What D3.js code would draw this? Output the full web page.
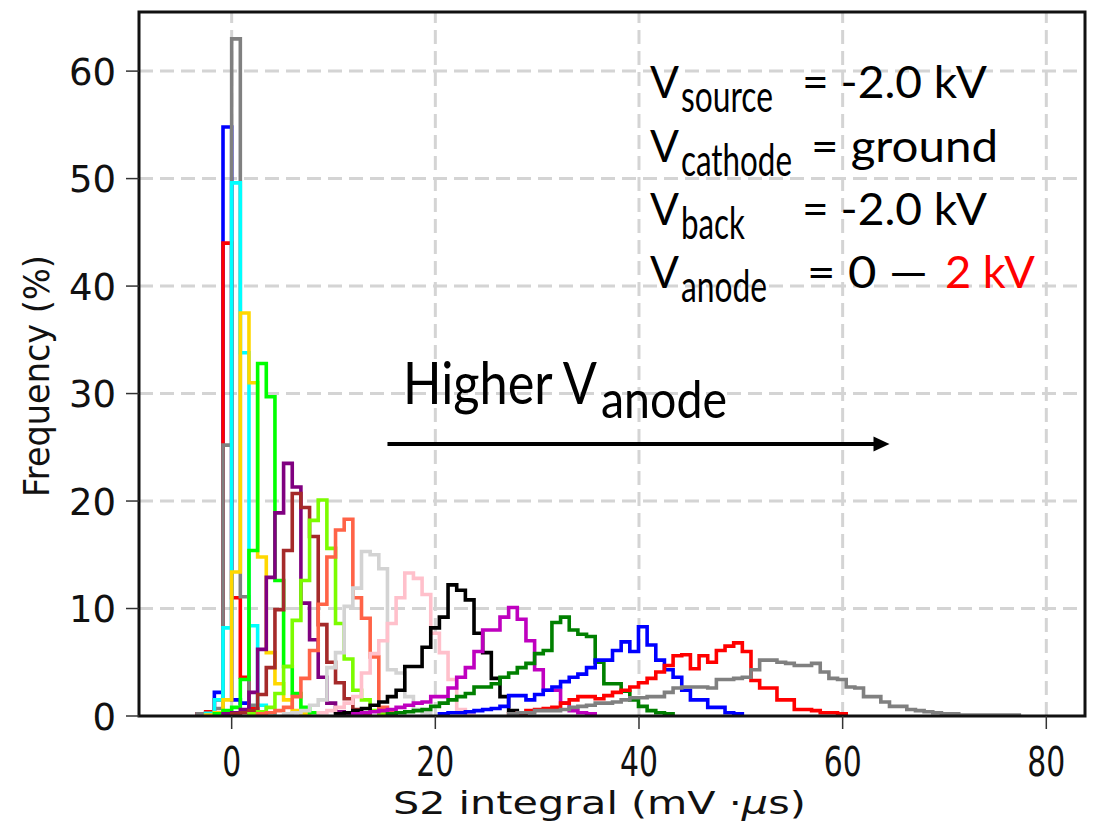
<!DOCTYPE html>
<html><head><meta charset="utf-8">
<script src="https://cdn.jsdelivr.net/npm/d3@7/dist/d3.min.js"></script>
<style>body{margin:0;background:#fff;} svg{display:block}</style>
</head><body>
<svg id="chart" width="1099" height="824"></svg>
<script>
// ---- data ----
const binStart = -5.1;      // left edge of bin 0 (mV·µs)
const binWidth = 0.85;      // shared bin width (mV·µs)
const xTicks = [0, 20, 40, 60, 80];
const yTicks = [0, 10, 20, 30, 40, 50, 60];

// Frequency (%) per bin, each series starts at the bin index given in seriesStartBins
const blue1  = [0.2, 0.3, 2.2, 54.8, 1.5, 1.2, 0.3];
const red1   = [0.2, 0.4, 1.5, 44.0, 11.0, 3.6, 0.8, 0.2];
const gray1  = [0.2, 0.3, 0.7, 25.2, 63.0, 11.1, 1.0, 0.3];
const cyan1  = [0.2, 1.5, 8.2, 49.6, 33.8, 8.4, 1.0, 0.3];
const gold1  = [0.1, 0.3, 1.5, 13.4, 37.5, 31.0, 14.8, 5.9, 3.0, 1.5, 0.5, 0.2];
const lime1  = [0.2, 0.5, 0.8, 3.4, 15.4, 32.8, 29.7, 12.6, 4.6, 2.1, 0.8, 0.3];
const purple1 = [0.2, 0.3, 0.6, 2.2, 6.2, 12.9, 18.9, 23.5, 21.3, 10.5, 7.1, 3.6, 1.2, 0.4, 0.2];
const brown1 = [0.2, 0.3, 0.5, 2.0, 4.5, 9.9, 15.4, 20.7, 19.4, 16.7, 8.5, 5.0, 3.1, 1.6, 0.6, 0.2];
const lawngreen1 = [0.2, 0.4, 0.8, 2.1, 4.6, 8.9, 12.6, 18.2, 20.1, 15.6, 8.6, 5.3, 2.4, 1.5, 0.5, 0.2];
const tomato1 = [0.2, 0.3, 0.5, 0.8, 1.8, 3.5, 6.1, 10.4, 14.8, 17.3, 18.3, 11.0, 9.1, 5.5, 0.8, 0.3];
const lightgray1 = [0.2, 0.3, 0.5, 1.0, 1.5, 4.5, 5.9, 10.2, 11.9, 15.3, 15.0, 13.7, 4.3, 4.0, 1.8, 0.6, 0.3];
const pink1  = [0.3, 0.5, 0.8, 1.2, 1.8, 4.0, 5.8, 7.0, 8.6, 11.0, 13.3, 12.8, 11.3, 7.7, 5.9, 3.4, 0.6, 0.2];
const black1 = [0.2, 0.3, 0.5, 0.7, 1.0, 1.3, 1.8, 2.4, 4.6, 4.6, 6.4, 8.2, 9.2, 12.2, 11.7, 10.8, 7.7, 5.9, 3.5, 1.8, 0.5, 0.2];
const magenta1 = [0.2, 0.3, 0.4, 0.5, 0.6, 0.8, 1.0, 1.2, 1.3, 1.8, 1.8, 2.6, 3.6, 4.5, 6.0, 8.0, 8.0, 9.2, 10.1, 9.0, 7.0, 4.3, 2.4, 2.4, 1.2, 0.5, 0.3, 0.2];
const green1 = [0.2, 0.3, 0.4, 0.5, 0.6, 0.9, 1.2, 1.5, 1.8, 2.1, 2.7, 2.7, 3.0, 3.6, 4.0, 4.5, 4.9, 5.8, 6.1, 8.7, 9.2, 8.0, 7.6, 7.4, 5.0, 3.0, 3.0, 2.3, 1.5, 0.9, 0.5, 0.3, 0.2];
const blue2  = [0.2, 0.3, 0.3, 0.4, 0.5, 0.6, 0.7, 0.9, 1.9, 1.9, 1.5, 2.0, 2.4, 2.7, 3.2, 3.6, 3.9, 4.5, 5.2, 5.2, 6.1, 6.9, 6.0, 8.3, 6.6, 5.2, 4.3, 3.6, 2.4, 1.5, 1.5, 0.8, 0.8, 0.3, 0.2];
const red2   = [0.2, 0.3, 0.5, 0.6, 0.7, 0.8, 1.2, 1.5, 1.8, 1.8, 1.6, 1.9, 2.2, 2.4, 2.7, 3.1, 3.5, 4.1, 4.7, 5.6, 5.7, 4.4, 5.6, 5.0, 6.1, 6.5, 6.8, 6.0, 3.3, 2.6, 2.6, 1.5, 1.5, 0.6, 0.6, 0.5, 0.3, 0.3, 0.2];
const gray2  = [0.2, 0.3, 0.3, 0.5, 0.5, 0.5, 0.6, 0.8, 0.9, 1.0, 1.2, 1.2, 1.3, 1.5, 1.7, 1.7, 1.8, 1.8, 2.2, 2.6, 2.7, 2.7, 2.7, 2.6, 3.4, 3.4, 3.5, 3.6, 4.3, 5.2, 5.2, 5.0, 4.9, 4.7, 4.7, 4.9, 4.1, 3.5, 3.4, 2.7, 2.6, 1.8, 1.8, 1.3, 0.9, 0.9, 0.6, 0.5, 0.4, 0.3, 0.2, 0.2, 0.1, 0.1, 0.1, 0.1, 0.1, 0.1, 0.1];

const seriesValues = [blue1, red1, gray1, cyan1, gold1, lime1, purple1, brown1, lawngreen1, tomato1, lightgray1, pink1, black1, magenta1, green1, blue2, red2, gray2];
const seriesStartBins = [2, 2, 2, 3, 3, 4, 5, 6, 8, 9, 12, 16, 18, 20, 24, 30, 38, 38];
const seriesColors = ["#0000ff", "#ff0000", "#808080", "#00ffff", "#ffd700", "#00ff00", "#800080", "#a52a2a", "#7cfc00", "#ff6347", "#d3d3d3", "#ffc0cb", "#000000", "#bf00bf", "#008000", "#0000ff", "#ff0000", "#808080"];

// ---- chart ----
const svg = d3.select("#chart");
const M = {left: 139, right: 1085, top: 12, bottom: 716};
const x = d3.scaleLinear().domain([-9.1, 83.8]).range([M.left, M.right]);
const y = d3.scaleLinear().domain([0, 65.5]).range([M.bottom, M.top]);

svg.append("rect").attr("width", 1099).attr("height", 824).attr("fill", "#fff");

// grid
const grid = svg.append("g").attr("stroke", "#d4d4d4").attr("stroke-width", 3).attr("stroke-dasharray", "14,7");
grid.selectAll("line.gx").data(xTicks).join("line")
  .attr("x1", d => x(d)).attr("x2", d => x(d)).attr("y1", M.bottom).attr("y2", M.top);
grid.selectAll("line.gy").data(yTicks.filter(d => d > 0)).join("line")
  .attr("y1", d => y(d)).attr("y2", d => y(d)).attr("x1", M.left).attr("x2", M.right);

// histograms (step outlines)
const edge = k => binStart + k * binWidth;
const line = d3.line().x(d => x(d[0])).y(d => y(d[1]));
const plot = svg.append("g");
seriesValues.forEach((vals, i) => {
  const s = seriesStartBins[i];
  const pts = [[edge(s), 0]];
  vals.forEach((v, j) => { pts.push([edge(s + j), v]); pts.push([edge(s + j + 1), v]); });
  pts.push([edge(s + vals.length), 0]);
  plot.append("path").attr("d", line(pts)).attr("fill", "none")
    .attr("stroke", seriesColors[i]).attr("stroke-width", 3.6).attr("stroke-linejoin", "miter");
});

// frame
svg.append("rect").attr("x", M.left).attr("y", M.top).attr("width", M.right - M.left).attr("height", M.bottom - M.top)
  .attr("fill", "none").attr("stroke", "#111").attr("stroke-width", 3);

// ticks
const tk = svg.append("g").attr("stroke", "#333").attr("stroke-width", 1.5);
tk.selectAll("line.ty").data(yTicks).join("line")
  .attr("x1", M.left - 13).attr("x2", M.left).attr("y1", d => y(d)).attr("y2", d => y(d));
tk.selectAll("line.tx").data(xTicks).join("line")
  .attr("y1", M.bottom).attr("y2", M.bottom + 13).attr("x1", d => x(d)).attr("x2", d => x(d));

svg.append("g").selectAll("text").data(yTicks).join("text")
  .attr("x", 116).attr("y", d => y(d) + 13.5).attr("text-anchor", "end")
  .attr("font-family", "DejaVu Sans").attr("font-size", 37).attr("fill", "#111")
  .text(d => d);

// text squeezed horizontally to a target width (via transform, so boxes stay exact)
function fitted(parent, str, px, py, size, targetLen, opts) {
  opts = opts || {};
  const t = parent.append("text").attr("x", 0).attr("y", 0).attr("font-size", size)
    .attr("fill", opts.color || "#111");
  if (opts.family) t.attr("font-family", opts.family);
  if (opts.build) opts.build(t); else t.text(str);
  const w = t.node().getComputedTextLength();
  const sx = targetLen / w;
  const anchorShift = opts.center ? -targetLen / 2 : 0;
  t.attr("transform", `translate(${px + anchorShift},${py}) ${opts.rotate ? "rotate(" + opts.rotate + ")" : ""} scale(${sx},1)`);
  return t;
}

const xTickG = svg.append("g").attr("font-family", "DejaVu Sans");
xTicks.forEach(d => fitted(xTickG, String(d), x(d), 776, 41, String(d).length * 19, {center: true}));

// axis titles
fitted(svg, null, 393, 814, 32, 413, {family: "DejaVu Sans", build: t => {
  t.append("tspan").text("S2 integral (mV ·");
  t.append("tspan").attr("font-style", "italic").text("μ");
  t.append("tspan").text("s)");
}});
fitted(svg, "Frequency (%)", 49, 497, 35, 242, {family: "DejaVu Sans", rotate: -90});

// annotations
const ann = svg.append("g").attr("font-family", "Lato, 'Open Sans', sans-serif");
const annLines = [
  {sub: "source", subLen: 92, rest: "= -2.0 kV", restX: 802, restLen: 185, base: 98},
  {sub: "cathode", subLen: 111, rest: "= ground", restX: 811, restLen: 187, base: 162},
  {sub: "back", subLen: 64, rest: "= -2.0 kV", restX: 802, restLen: 185, base: 225},
  {sub: "anode", subLen: 86, rest: "= 0 \u2014", restX: 807, restLen: 121, base: 288}
];
annLines.forEach((l, i) => {
  fitted(ann, "V", 650, l.base, 45, 29, {color: "#000"});
  fitted(ann, l.sub, 681, l.base + 14, 45, l.subLen, {color: "#000"});
  fitted(ann, l.rest, l.restX, l.base, 45, l.restLen, {color: "#000"});
});
fitted(ann, "2 kV", 945, 288, 45, 90, {color: "#ff0000"});
fitted(ann, "Higher V", 403, 404, 58, 194, {color: "#000"});
fitted(ann, "anode", 601, 418, 52, 126, {color: "#000"});

// arrow (in data coordinates)
const arrowFrom = [15.3, 25.3], arrowTo = [64.6, 25.3];
svg.append("line").attr("x1", x(arrowFrom[0])).attr("y1", y(arrowFrom[1]))
  .attr("x2", x(arrowTo[0]) - 12).attr("y2", y(arrowTo[1]))
  .attr("stroke", "#000").attr("stroke-width", 4);
const ax = x(arrowTo[0]), ay = y(arrowTo[1]);
svg.append("path").attr("d", `M${ax},${ay} L${ax - 16},${ay - 7.5} L${ax - 16},${ay + 7.5} Z`).attr("fill", "#000");
</script>
</body></html>
